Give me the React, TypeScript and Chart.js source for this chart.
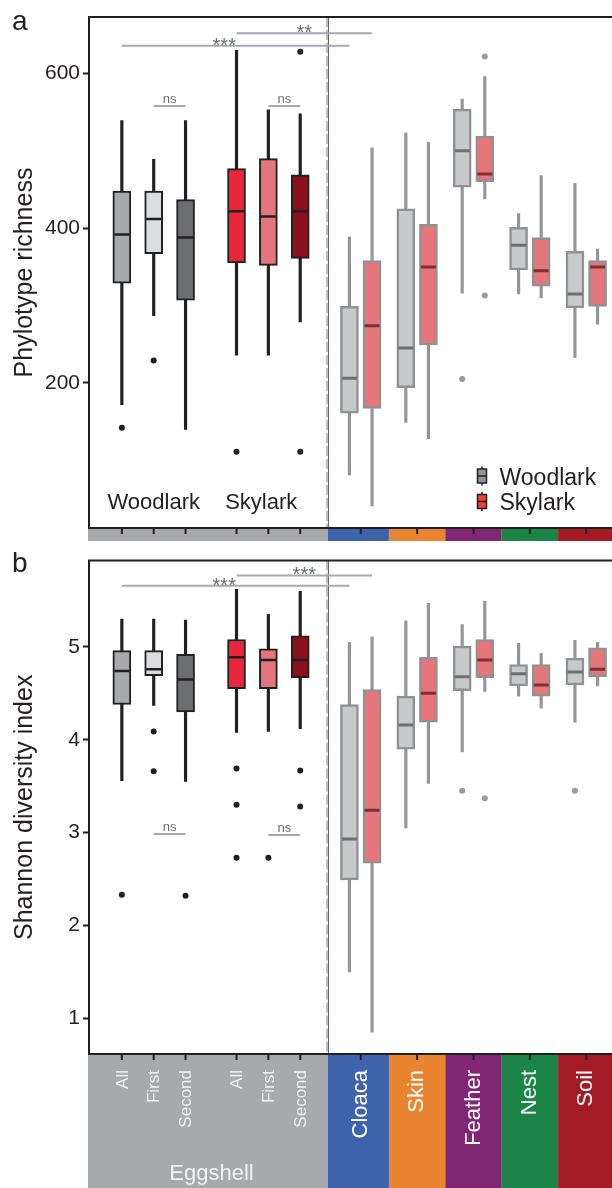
import React, { useEffect, useRef } from 'react';
import { Chart, registerables } from 'chart.js';
Chart.register(...registerables);

const FONT = "'Liberation Sans', Arial, Helvetica, sans-serif";

// ---------------- data ----------------
const eggshellLabels = ['All', 'First', 'Second', 'All', 'First', 'Second'];
const siteLabels = ['Cloaca', 'Skin', 'Feather', 'Nest', 'Soil'];
const speciesNames = ['Woodlark', 'Skylark'];

// each box: [lower whisker, Q1, median, Q3, upper whisker]
// Panel a: phylotype richness
const richEggWoodlark = [[172, 329, 392, 448, 539], [287, 367, 412, 448, 489], [140, 307, 388, 437, 539]];
const richEggSkylark = [[236, 355, 422, 477, 630], [236, 352, 415, 490, 553], [279, 361, 422, 469, 548]];
const richEggWoodlarkOut = [[142], [229], []];
const richEggSkylarkOut = [[111], [], [628, 111]];
const richSiteWoodlark = [[81, 161, 206, 299, 389], [149, 194, 245, 425, 523], [316, 453, 500, 554, 567], [315, 346, 378, 401, 419], [233, 297, 315, 370, 458]];
const richSiteSkylark = [[41, 167, 274, 358, 504], [128, 249, 350, 405, 511], [438, 460, 470, 519, 596], [310, 325, 345, 388, 468], [276, 299, 350, 358, 373]];
const richSiteWoodlarkOut = [[], [], [205], [], []];
const richSiteSkylarkOut = [[], [], [622, 313], [], []];
const richTests = ['***', '**', 'ns', 'ns'];
const richTestLevels = [636, 652, 558, 558];
const richTicks = [200, 400, 600];

// Panel b: Shannon diversity index
const shanEggWoodlark = [[3.56, 4.38, 4.74, 4.96, 5.30], [4.37, 4.69, 4.76, 4.96, 5.30], [3.55, 4.30, 4.65, 4.92, 5.29]];
const shanEggSkylark = [[4.08, 4.55, 4.89, 5.08, 5.62], [4.09, 4.55, 4.86, 4.98, 5.35], [4.12, 4.67, 4.86, 5.12, 5.60]];
const shanEggWoodlarkOut = [[2.33], [4.09, 3.66], [2.32]];
const shanEggSkylarkOut = [[3.69, 3.30, 2.73], [2.73], [3.67, 3.28]];
const shanSiteWoodlark = [[1.50, 2.49, 2.93, 4.38, 5.05], [3.05, 3.90, 4.16, 4.47, 5.28], [3.87, 4.53, 4.68, 5.01, 5.24], [4.47, 4.58, 4.71, 4.81, 5.04], [4.19, 4.59, 4.73, 4.88, 5.07]];
const shanSiteSkylark = [[0.85, 2.67, 3.24, 4.54, 5.11], [3.53, 4.19, 4.50, 4.89, 5.47], [4.52, 4.67, 4.86, 5.08, 5.49], [4.34, 4.47, 4.59, 4.81, 4.93], [4.58, 4.68, 4.76, 4.99, 5.05]];
const shanSiteWoodlarkOut = [[], [], [3.45], [], [3.45]];
const shanSiteSkylarkOut = [[], [], [3.37], [], []];
const shanTests = ['***', '***', 'ns', 'ns'];
const shanTestLevels = [5.66, 5.77, 2.985, 2.975];
const shanTicks = [1, 2, 3, 4, 5];

// which boxes each test compares (box index: 0-5 eggshell, 6+ sites W/S)
const TEST_PAIRS = [[0, 6], [3, 7], [1, 2], [4, 5]];
const TEST_LABEL_FRAC = [0.45, 0.5, 0.5, 0.5];

// ---------------- layout & style ----------------
const X_MIN = -1.03125;
const X_MAX = 15.9375;
const DIVIDER_AT = 6.47;
const eggPos = (i: number) => i + (i >= 3 ? 0.6 : 0);
const siteCenter = (g: number) => 7.5 + 1.77 * g;
const sitePos = (g: number, s: number) => siteCenter(g) + (s === 0 ? -0.355 : 0.355);
const SPECIES_LABEL_AT = [1, 4.375];

const INK = '#231f20';
const EGG_FILL_W = ['#a7a9ac', '#dcdddf', '#6d6e71'];
const EGG_FILL_S = ['#e8253a', '#e5757c', '#8c0f1e'];
const SITE_FILL = ['#c8c9cb', '#e6767a'];
const SITE_BORDER = '#909194';
const SITE_MED = ['#6e6f72', '#7d3036'];
const SITE_WHISK = '#939598';
const SITE_OUT = '#9a9b9e';
const STRIP_EGG = '#a7a9ac';
const STRIP_SITE = ['#3f63aa', '#e98530', '#802673', '#1b8548', '#a31b24'];

type Box = { pos: number; stats: number[]; outliers: number[]; fill: string; border: string; median: string; whisker: string; site: boolean };

function buildBoxes(eW: number[][], eS: number[][], eWo: number[][], eSo: number[][], sW: number[][], sS: number[][], sWo: number[][], sSo: number[][]): Box[] {
  const boxes: Box[] = [];
  for (let i = 0; i < 3; i++) boxes.push({ pos: eggPos(i), stats: eW[i], outliers: eWo[i], fill: EGG_FILL_W[i], border: INK, median: INK, whisker: INK, site: false });
  for (let i = 0; i < 3; i++) boxes.push({ pos: eggPos(i + 3), stats: eS[i], outliers: eSo[i], fill: EGG_FILL_S[i], border: INK, median: INK, whisker: INK, site: false });
  for (let g = 0; g < siteLabels.length; g++) {
    boxes.push({ pos: sitePos(g, 0), stats: sW[g], outliers: sWo[g], fill: SITE_FILL[0], border: SITE_BORDER, median: SITE_MED[0], whisker: SITE_WHISK, site: true });
    boxes.push({ pos: sitePos(g, 1), stats: sS[g], outliers: sSo[g], fill: SITE_FILL[1], border: SITE_BORDER, median: SITE_MED[1], whisker: SITE_WHISK, site: true });
  }
  return boxes;
}

type PanelCfg = {
  boxes: Box[]; tests: string[]; levels: number[]; ticks: number[];
  yMin: number; yMax: number; padTop: number; padBottom: number;
  letter: string; letterY: number; title: string;
  stripLabels: boolean; legend: boolean; speciesLabels: boolean;
};

function decorPlugin(p: PanelCfg) {
  return {
    id: 'decor',
    beforeDatasetsDraw(chart: any) {
      const { ctx, chartArea: ca, scales } = chart;
      const dx = scales.x.getPixelForValue(DIVIDER_AT);
      ctx.save();
      ctx.strokeStyle = '#c2c3c5';
      ctx.lineWidth = 3;
      ctx.setLineDash([10, 3]);
      ctx.beginPath(); ctx.moveTo(dx - 0.5, ca.top); ctx.lineTo(dx - 0.5, ca.bottom); ctx.stroke();
      ctx.setLineDash([]);
      ctx.strokeStyle = '#5e5f62';
      ctx.lineWidth = 1;
      ctx.beginPath(); ctx.moveTo(dx + 0.5, ca.top); ctx.lineTo(dx + 0.5, ca.bottom); ctx.stroke();
      ctx.restore();
    },
    afterDraw(chart: any) {
      const { ctx, chartArea: ca, scales } = chart;
      const x = scales.x, y = scales.y;
      const W = chart.width, H = chart.height;
      const px = (v: number) => x.getPixelForValue(v);
      const dx = px(DIVIDER_AT);
      ctx.save();
      // category strip
      const sTop = ca.bottom + 1;
      const sBot = p.stripLabels ? H : ca.bottom + 13;
      ctx.fillStyle = STRIP_EGG;
      ctx.fillRect(ca.left - 1, sTop, dx - ca.left + 1, sBot - sTop);
      for (let g = 0; g < siteLabels.length; g++) {
        const l = g === 0 ? dx : (px(sitePos(g - 1, 1)) + px(sitePos(g, 0))) / 2;
        const r = g === siteLabels.length - 1 ? W : (px(sitePos(g, 1)) + px(sitePos(g + 1, 0))) / 2;
        ctx.fillStyle = STRIP_SITE[g];
        ctx.fillRect(l, sTop, r - l, sBot - sTop);
      }
      ctx.fillStyle = INK;
      const tickXs = [...eggshellLabels.map((_, i) => px(eggPos(i))), ...siteLabels.map((_, g) => px(siteCenter(g)))];
      tickXs.forEach((tx) => ctx.fillRect(tx - 1, sTop, 2, 5));
      // frame lines
      ctx.strokeStyle = INK;
      ctx.lineWidth = 2;
      ctx.beginPath(); ctx.moveTo(ca.left - 1, ca.top); ctx.lineTo(W, ca.top); ctx.stroke();
      ctx.beginPath(); ctx.moveTo(ca.left - 1, ca.bottom); ctx.lineTo(W, ca.bottom); ctx.stroke();
      // strip labels
      if (p.stripLabels) {
        const rot = (label: string, tx: number, size: number, color: string) => {
          ctx.save();
          ctx.translate(tx, sTop + 15);
          ctx.rotate(-Math.PI / 2);
          ctx.font = `${size}px ${FONT}`;
          ctx.fillStyle = color;
          ctx.textAlign = 'right';
          ctx.textBaseline = 'middle';
          ctx.fillText(label, 0, 0);
          ctx.restore();
        };
        eggshellLabels.forEach((lab, i) => rot(lab, px(eggPos(i)) + 1, 17, '#f1f1f2'));
        siteLabels.forEach((lab, g) => rot(lab, px(siteCenter(g)), 22, '#ffffff'));
        ctx.font = `22px ${FONT}`;
        ctx.fillStyle = '#f1f1f2';
        ctx.textAlign = 'center';
        ctx.textBaseline = 'alphabetic';
        ctx.fillText('Eggshell', (ca.left + dx) / 2 + 3, H - 8);
      }
      // panel letter
      ctx.fillStyle = INK;
      ctx.font = `28px ${FONT}`;
      ctx.textAlign = 'left';
      ctx.textBaseline = 'alphabetic';
      ctx.fillText(p.letter, 12, p.letterY);
      // y title
      ctx.save();
      ctx.translate(32, (ca.top + ca.bottom) / 2);
      ctx.rotate(-Math.PI / 2);
      ctx.font = `25px ${FONT}`;
      ctx.textAlign = 'center';
      ctx.fillText(p.title, 0, 0);
      ctx.restore();
      // test labels
      ctx.fillStyle = '#6d6e71';
      ctx.textAlign = 'center';
      p.tests.forEach((lab, k) => {
        const [a, c] = TEST_PAIRS[k];
        const x1 = px(p.boxes[a].pos), x2 = px(p.boxes[c].pos);
        const ly = y.getPixelForValue(p.levels[k]);
        const tx = x1 + (x2 - x1) * TEST_LABEL_FRAC[k];
        if (lab === 'ns') { ctx.font = `13px ${FONT}`; ctx.fillText(lab, tx, ly - 3); }
        else { ctx.font = `20px ${FONT}`; ctx.fillText(lab, tx, ly + 6); }
      });
      // species labels
      if (p.speciesLabels) {
        ctx.fillStyle = INK;
        ctx.font = `22px ${FONT}`;
        ctx.textAlign = 'center';
        speciesNames.forEach((n, i) => ctx.fillText(n, px(SPECIES_LABEL_AT[i]), 509));
      }
      // legend
      if (p.legend) {
        const icons = ['#939598', '#ef4136'];
        speciesNames.forEach((n, i) => {
          const ix = 477.5, iy = 469 + i * 25.5;
          ctx.strokeStyle = INK;
          ctx.lineWidth = 1.5;
          ctx.beginPath(); ctx.moveTo(ix + 4.5, iy - 2.5); ctx.lineTo(ix + 4.5, iy + 16.5); ctx.stroke();
          ctx.fillStyle = icons[i];
          ctx.fillRect(ix, iy, 9, 14);
          ctx.strokeRect(ix, iy, 9, 14);
          ctx.beginPath(); ctx.moveTo(ix, iy + 7); ctx.lineTo(ix + 9, iy + 7); ctx.stroke();
          ctx.fillStyle = INK;
          ctx.font = `23px ${FONT}`;
          ctx.textAlign = 'left';
          ctx.fillText(n, 499.5, iy + 15.5);
        });
      }
      ctx.restore();
    },
  };
}

function makeConfig(p: PanelCfg): any {
  const b = p.boxes;
  const outPts: any[] = [];
  const outCols: string[] = [];
  b.forEach((bx) => bx.outliers.forEach((v) => { outPts.push({ x: bx.pos, y: v }); outCols.push(bx.site ? SITE_OUT : INK); }));
  const brackets = p.tests.map((lab, k) => {
    const [a, c] = TEST_PAIRS[k];
    return {
      type: 'line', label: lab,
      data: [{ x: b[a].pos, y: p.levels[k] }, { x: b[c].pos, y: p.levels[k] }],
      borderColor: '#a7a9ac', borderWidth: 2, pointRadius: 0, fill: false, order: 0,
    };
  });
  return {
    type: 'bar',
    data: {
      datasets: [
        { type: 'bar', label: 'whiskers', data: b.map((bx) => ({ x: bx.pos, y: [bx.stats[0], bx.stats[4]] })), backgroundColor: b.map((bx) => bx.whisker), borderWidth: 0, barThickness: 2.5, grouped: false, order: 4 },
        { type: 'bar', label: 'boxes', data: b.map((bx) => ({ x: bx.pos, y: [bx.stats[1], bx.stats[3]] })), backgroundColor: b.map((bx) => bx.fill), borderColor: b.map((bx) => bx.border), borderWidth: b.map((bx) => (bx.site ? 2.5 : 2)), borderSkipped: false, barThickness: 18, grouped: false, order: 3 },
        { type: 'scatter', label: 'medians', data: b.map((bx) => ({ x: bx.pos, y: bx.stats[2] })), pointStyle: 'line', pointRadius: 7.5, pointBorderWidth: b.map((bx) => (bx.site ? 3 : 2.5)), pointBorderColor: b.map((bx) => bx.median), order: 2 },
        { type: 'scatter', label: 'outliers', data: outPts, pointRadius: 3, pointBackgroundColor: outCols, pointBorderColor: outCols, pointBorderWidth: 0, order: 1 },
        ...brackets,
      ],
    },
    options: {
      responsive: false,
      animation: false,
      events: [],
      layout: { padding: { top: p.padTop, bottom: p.padBottom, right: 8, left: 0 } },
      plugins: { legend: { display: false }, tooltip: { enabled: false } },
      scales: {
        x: { type: 'linear', min: X_MIN, max: X_MAX, offset: false, display: false },
        y: {
          type: 'linear', min: p.yMin, max: p.yMax,
          afterFit: (s: any) => { s.width = 89; },
          afterBuildTicks: (s: any) => { s.ticks = p.ticks.map((v) => ({ value: v })); },
          ticks: { font: { family: FONT, size: 21 }, color: INK, padding: 3 },
          grid: { drawOnChartArea: false, drawTicks: true, tickLength: 6, tickWidth: 2, tickColor: INK },
          border: { display: true, color: INK, width: 2 },
        },
      },
    },
    plugins: [decorPlugin(p)],
  };
}

const panelA: PanelCfg = {
  boxes: buildBoxes(richEggWoodlark, richEggSkylark, richEggWoodlarkOut, richEggSkylarkOut, richSiteWoodlark, richSiteSkylark, richSiteWoodlarkOut, richSiteSkylarkOut),
  tests: richTests, levels: richTestLevels, ticks: richTicks,
  yMin: 12.5, yMax: 673, padTop: 17, padBottom: 17,
  letter: 'a', letterY: 30, title: 'Phylotype richness',
  stripLabels: false, legend: true, speciesLabels: true,
};

const panelB: PanelCfg = {
  boxes: buildBoxes(shanEggWoodlark, shanEggSkylark, shanEggWoodlarkOut, shanEggSkylarkOut, shanSiteWoodlark, shanSiteSkylark, shanSiteWoodlarkOut, shanSiteSkylarkOut),
  tests: shanTests, levels: shanTestLevels, ticks: shanTicks,
  yMin: 0.615, yMax: 5.93, padTop: 2, padBottom: 134,
  letter: 'b', letterY: 27, title: 'Shannon diversity index',
  stripLabels: true, legend: false, speciesLabels: false,
};

function Panel({ cfg, top, height }: { cfg: PanelCfg; top: number; height: number }) {
  const ref = useRef<HTMLCanvasElement | null>(null);
  useEffect(() => {
    if (!ref.current) return;
    const chart = new Chart(ref.current, makeConfig(cfg));
    return () => chart.destroy();
  }, [cfg]);
  return (
    <div style={{ position: 'absolute', left: 0, top, width: 640, height }}>
      <canvas ref={ref} width={640} height={height} style={{ display: 'block', width: 640, height }} />
    </div>
  );
}

export default function App() {
  useEffect(() => {
    document.body.style.margin = '0';
    document.body.style.overflow = 'hidden';
  }, []);
  return (
    <div style={{ position: 'absolute', left: 0, top: 0, width: 612, height: 1188, overflow: 'hidden', background: '#ffffff' }}>
      <Panel cfg={panelA} top={0} height={545} />
      <Panel cfg={panelB} top={545} height={643} />
    </div>
  );
}
